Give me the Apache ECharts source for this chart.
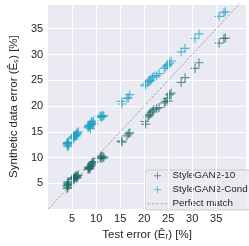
<!DOCTYPE html>
<html><head><meta charset="utf-8">
<script src="https://cdn.jsdelivr.net/npm/echarts@6/dist/echarts.min.js"></script>
<style>html,body{margin:0;padding:0;background:#fff}#c{width:249px;height:246px}</style>
</head><body><div id="c"></div>
<script>
// Test error (x), shared by both series
const testError = [
  3.9, 4.0, 4.1, 4.2, 4.3, 4.0, 4.2, 4.1,
  5.0, 5.2, 5.3, 5.5, 5.6, 5.8, 5.9, 6.0, 6.1, 6.3, 5.4, 5.7,
  8.3, 8.5, 8.6, 8.8, 8.9, 9.0, 9.1, 9.2, 9.4, 8.7, 9.5, 8.4,
  10.8, 11.0, 11.2, 11.4, 11.6, 11.1,
  15.2, 15.4, 16.4, 16.7, 17.0,
  20.1, 20.3, 20.8, 21.0, 21.2, 21.4, 21.7, 22.0,
  22.6, 23.1,
  24.2, 24.5, 24.8, 25.0, 25.3, 25.6,
  27.7, 28.5,
  30.6, 31.4,
  35.6, 36.6, 36.9
];
const synth10 = [
  4.5, 4.9, 4.2, 5.1, 4.6, 4.0, 4.8, 5.3,
  5.8, 6.0, 5.9, 6.1, 6.2, 6.3, 6.0, 6.5, 6.2, 6.6, 5.7, 6.4,
  7.7, 7.9, 8.0, 8.2, 8.4, 8.6, 8.8, 9.0, 9.2, 7.8, 9.1, 8.1,
  9.9, 10.1, 9.8, 10.2, 10.0, 10.3,
  13.2, 13.0, 14.2, 14.6, 14.8,
  17.0, 16.5, 17.9, 18.2, 18.4, 18.8, 19.0, 19.3,
  19.5, 19.7,
  20.6, 20.9, 21.5, 21.0, 22.2, 22.5,
  24.6, 25.5,
  27.3, 28.4,
  32.2, 33.1, 33.2
];
const synthCond = [
  12.6, 12.9, 12.3, 12.7, 12.4, 12.8, 13.0, 12.1,
  13.7, 13.9, 14.1, 14.0, 14.3, 14.5, 14.2, 14.8, 14.6, 15.0, 13.6, 14.4,
  15.8, 16.0, 16.3, 15.6, 16.5, 16.8, 17.0, 16.4, 17.1, 16.1, 16.6, 16.2,
  18.0, 17.9, 18.2, 18.0, 18.1, 17.8,
  20.9, 20.4, 21.5, 21.6, 22.2,
  23.9, 24.2, 24.6, 24.8, 25.1, 24.9, 25.5, 25.8,
  25.9, 26.3,
  27.3, 27.6, 27.9, 28.0, 28.3, 28.7,
  30.5, 31.2,
  33.1, 34.0,
  37.4, 38.1, 38.3
];
const xTicks = [5, 10, 15, 20, 25, 30, 35];
const yTicks = [5, 10, 15, 20, 25, 30, 35];
const matchRange = [0, 45];
const seriesNames = ['StyleGAN2-10', 'StyleGAN2-Cond', 'Perfect match'];

const plus = 'path://M4.35,0H5.65V4.35H10V5.65H5.65V10H4.35V5.65H0V4.35H4.35Z';
const dashIcon = 'path://M0,0h2.6v1h-2.6zM4,0h2.6v1h-2.6zM8,0h2.6v1h-2.6zM12,0h2.6v1h-2.6zM16,0h2.6v1h-2.6z';
const font = 'Liberation Sans';
const txt = '#262626';
const c10 = '#1f6b6b', cCond = '#1ba3c6', cMatch = '#9a9a9a';

const chart = echarts.init(document.getElementById('c'), null, {renderer: 'canvas'});
chart.setOption({
  animation: false,
  textStyle: {fontFamily: font},
  grid: {left: 34, top: 4, right: 0, bottom: 32.5, show: true, backgroundColor: '#EAEAF2', borderWidth: 0},
  xAxis: {
    type: 'value', min: 0, max: 41.2, interval: 5,
    axisLine: {show: false}, axisTick: {show: false}, splitLine: {show: false},
    axisLabel: {color: txt, fontSize: 11, fontFamily: font, margin: 4,
      formatter: v => xTicks.includes(v) ? String(v) : ''},
    name: 'Test error (Êᵣ) [%]', nameLocation: 'middle', nameGap: 17,
    nameTextStyle: {color: txt, fontSize: 11.5, fontFamily: font}
  },
  yAxis: {
    type: 'value', min: 0, max: 39.8, interval: 5,
    axisLine: {show: false}, axisTick: {show: false},
    splitLine: {show: true, lineStyle: {color: '#ffffff', width: 1}},
    axisLabel: {color: txt, fontSize: 11, fontFamily: font, margin: 5,
      formatter: v => yTicks.includes(v) ? String(v) : ''},
    name: 'Synthetic data error (Êₛ) [%]', nameLocation: 'middle', nameGap: 18,
    nameTextStyle: {color: txt, fontSize: 11.5, fontFamily: font}
  },
  legend: {
    orient: 'vertical', left: 145, top: 170,
    padding: [0.5, 3, 1, 2.5], itemGap: 3.5, itemWidth: 20, itemHeight: 7,
    backgroundColor: 'rgba(234,234,242,0.8)', borderColor: '#cccccc', borderWidth: 1, borderRadius: 3,
    textStyle: {color: txt, fontSize: 9.8, lineHeight: 10.5, fontFamily: font},
    data: [
      {name: seriesNames[0], icon: plus},
      {name: seriesNames[1], icon: plus},
      {name: seriesNames[2], icon: dashIcon, itemStyle: {color: '#b0b0b0'}}
    ]
  },
  series: [
    {
      name: '_grid', type: 'line', data: [], z: 1, silent: true,
      markLine: {silent: true, symbol: 'none', label: {show: false}, animation: false,
        lineStyle: {color: '#ffffff', width: 1, type: 'solid'},
        data: xTicks.map(v => ({xAxis: v}))}
    },
    {
      name: seriesNames[2], type: 'line', z: 2, symbol: 'none',
      data: matchRange.map(v => [v, v]),
      itemStyle: {color: cMatch},
      lineStyle: {color: cMatch, width: 0.9, type: [2.5, 1.5]}
    },
    {
      name: seriesNames[0], type: 'scatter', z: 3, symbol: plus, symbolSize: 9,
      itemStyle: {color: c10, opacity: 0.7},
      data: testError.map((x, i) => [x, synth10[i]])
    },
    {
      name: seriesNames[1], type: 'scatter', z: 4, symbol: plus, symbolSize: 9,
      itemStyle: {color: cCond, opacity: 0.7},
      data: testError.map((x, i) => [x, synthCond[i]])
    }
  ]
});
</script></body></html>
